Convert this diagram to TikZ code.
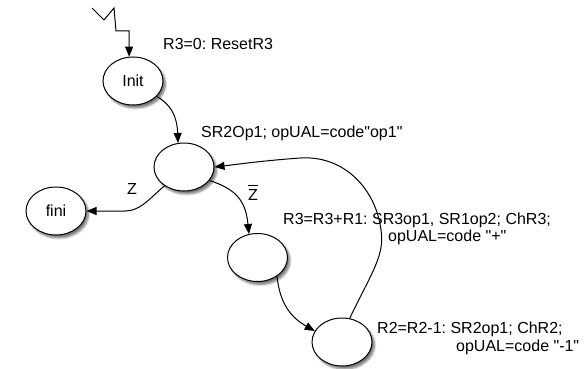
\documentclass[tikz,border=0pt]{standalone}
\usepackage{fontspec}
\setmainfont{Liberation Sans}[Ligatures=TeXOff]
\usetikzlibrary{shapes.geometric,arrows.meta,shadows.blur}
\frenchspacing
\begin{document}
\begin{tikzpicture}[x=1pt,y=-1pt,
  state/.style={ellipse,draw,line width=1pt,fill=white,minimum width=60pt,minimum height=48pt,inner sep=0pt,
    blur shadow={shadow xshift=2.5pt,shadow yshift=-3pt,shadow blur steps=6,shadow opacity=55}},
  lbl/.style={font=\fontsize{16}{19}\selectfont,inner sep=0pt},
  conn/.style={line width=1pt,-{Triangle[length=10pt,width=8pt]}},
  wire/.style={line width=1pt}]
\useasboundingbox (0,0) rectangle (586,369);
\node[state] (init) at (133,81) {\fontsize{16}{19}\selectfont Init};
\node[state] (s1) at (184,167) {};
\node[state] (fini) at (56,211) {\fontsize{16}{19}\selectfont fini};
\node[state] (s2) at (257.5,257.5) {};
\node[state] (s3) at (342,342) {};
\coordinate (z0) at (92,8);
\draw[conn] (z0) -- (104,20) -- (114,8) -- (116,31) -- (129,31) -- (init.99);
\draw[conn] (init.-33) .. controls (170,104) and (177,115) .. (s1.104);
\draw[conn] (s1.-136) .. controls (148,200) and (140,211) .. (125,211) -- (fini.east);
\draw[conn] (s1.-28) .. controls (240,190) and (246,205) .. (s2.110);
\draw[conn] (s2.-44) .. controls (280,305) and (292,318) .. (s3.158);
\draw[conn] (s3.72) .. controls (372,272) and (385,255) .. (381,230) .. controls (376,190) and (345,155) .. (300,158) .. controls (260,161) and (240,164) .. (s1.east);
\node[lbl,anchor=west] (l0) at (163,44) {R3=0: ResetR3};
\node[lbl,anchor=west] (l1) at (201,133) {SR2Op1; opUAL=code"op1"};
\node[lbl] (lz) at (132,189) {Z};
\node[lbl] (lzb) at (253,195) {Z};
\draw[wire] ([yshift=4pt]lzb.north west) -- ([yshift=4pt]lzb.north east);
\node[lbl,anchor=west] (l2a) at (283,220) {R3=R3+R1: SR3op1, SR1op2; ChR3;};
\node[lbl,anchor=west] (l2b) at (388,237) {opUAL=code "+"};
\node[lbl,anchor=west] (l3a) at (377,329) {R2=R2-1: SR2op1; ChR2;};
\node[lbl,anchor=west] (l3b) at (456,347) {opUAL=code "-1"};
\end{tikzpicture}
\end{document}
